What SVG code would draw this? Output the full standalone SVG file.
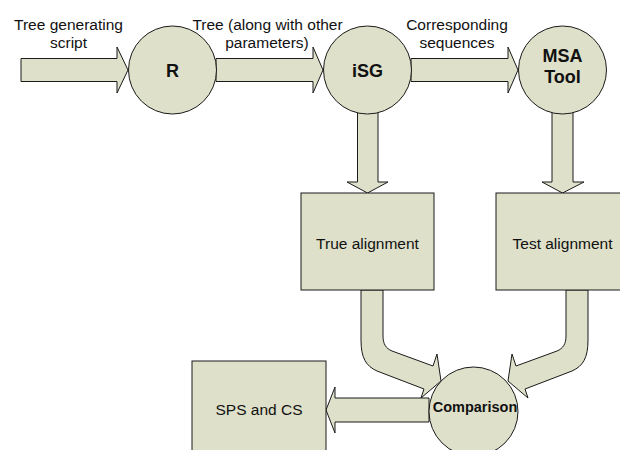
<svg xmlns="http://www.w3.org/2000/svg" width="620" height="450" viewBox="0 0 620 450">
<style>
.shape{fill:#dee0c9;stroke:#1a1a1a;stroke-width:1}
.lbl{font-family:"Liberation Sans",Arial,sans-serif;font-size:15.5px;fill:#111;text-anchor:middle}
.bold{font-family:"Liberation Sans",Arial,sans-serif;font-weight:bold;font-size:18px;fill:#111;text-anchor:middle}
</style>
<defs>
<path id="curveArrow" d="M361,290 L361,340 C361,358 366,366 377,371 L424,389 L421,398 L441,381 L437,354 L433,366 L392,351 C386,348.5 383,344 383,336 L383,290 Z"/>
</defs>
<rect width="620" height="450" fill="#ffffff"/>
<g id="connectors">
<polygon class="shape" points="21,58.5 117,58.5 117,47 128,70 117,93 117,81.5 21,81.5"/>
<polygon class="shape" points="216,58.5 313,58.5 313,47 323,70 313,93 313,81.5 216,81.5"/>
<polygon class="shape" points="411,58.5 508,58.5 508,47 518,70 508,93 508,81.5 411,81.5"/>
<polygon class="shape" points="357.5,112 378,112 378,182 388,182 367.5,193 347,182 357.5,182"/>
<polygon class="shape" points="552,112 573,112 573,182 584,182 562.5,193 542,182 552,182"/>
<use href="#curveArrow" class="shape"/>
<use href="#curveArrow" class="shape" transform="translate(949,0) scale(-1,1)"/>
<polygon class="shape" points="429,398 335,398 335,387 326,410 335,433 335,422 429,422"/>
</g>
<g id="label-script">
<text class="lbl" x="68.5" y="30">Tree generating</text>
<text class="lbl" x="68.5" y="47.5">script</text>
</g>
<g id="label-tree">
<text class="lbl" x="267.5" y="30">Tree (along with other</text>
<text class="lbl" x="267" y="47.5">parameters)</text>
</g>
<g id="label-seq">
<text class="lbl" x="457" y="30">Corresponding</text>
<text class="lbl" x="457" y="47.5">sequences</text>
</g>
<g id="node-R">
<circle class="shape" cx="172.5" cy="70" r="44"/>
<text class="bold" x="172.5" y="77">R</text>
</g>
<g id="node-iSG">
<circle class="shape" cx="367.5" cy="70" r="44"/>
<text class="bold" x="367.5" y="77">iSG</text>
</g>
<g id="node-MSA">
<circle class="shape" cx="562.5" cy="70" r="44"/>
<text class="bold" x="562.5" y="62">MSA</text>
<text class="bold" x="562.5" y="83">Tool</text>
</g>
<g id="node-true">
<rect class="shape" x="301" y="193" width="133" height="97"/>
<text class="lbl" x="367.5" y="249">True alignment</text>
</g>
<g id="node-test">
<rect class="shape" x="496" y="193" width="133" height="97"/>
<text class="lbl" x="562.5" y="249">Test alignment</text>
</g>
<g id="node-sps">
<rect class="shape" x="192" y="361" width="134" height="100"/>
<text class="lbl" x="259" y="415">SPS and CS</text>
</g>
<g id="node-comparison">
<circle class="shape" cx="473.5" cy="411.5" r="44.5"/>
<text class="bold" x="475" y="412" style="font-size:14.5px">Comparison</text>
</g>
</svg>
